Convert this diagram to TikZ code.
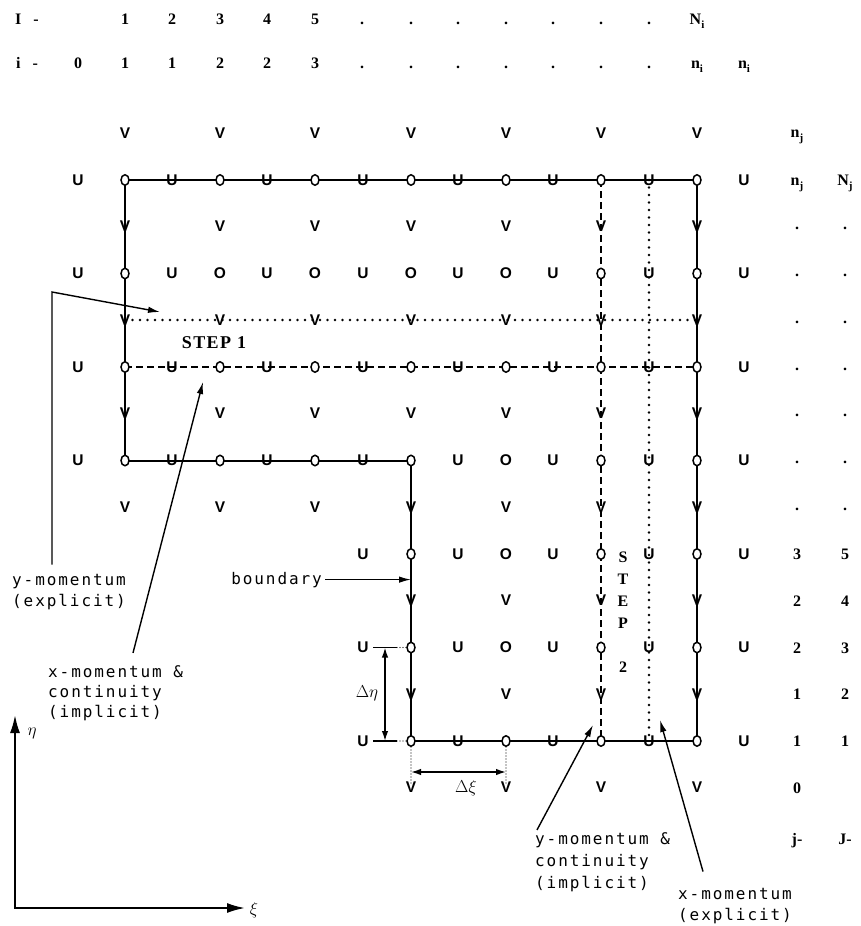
\documentclass[tikz,border=0pt]{standalone}
\usepackage{fontspec}
\setmainfont{Liberation Serif}
\newfontfamily\gridfont{Liberation Sans}
\newfontfamily\annfont[LetterSpace=12]{DejaVu Sans Mono}
\newfontfamily\stepfont[LetterSpace=8]{Liberation Serif}
\usetikzlibrary{arrows.meta,backgrounds,shapes.geometric,calc}
\newcommand\lowsub[1]{\raisebox{-0.55ex}{\fontsize{11}{11}\selectfont #1}}
\tikzset{
  gl/.style={font=\gridfont\bfseries\fontsize{15.5}{17}\selectfont, inner sep=0pt},
  ring/.style={ellipse, draw, fill=white, line width=1.5pt, minimum width=8pt, minimum height=10.5pt, inner sep=0pt},
  hd/.style={font=\bfseries\fontsize{16}{18}\selectfont, inner sep=0pt, anchor=base},
  ann/.style={font=\annfont\fontsize{16}{20}\selectfont, inner sep=0pt, anchor=base west},
  solidln/.style={line width=2pt},
  dashln/.style={line width=2pt, dash pattern=on 7pt off 4pt},
  dotln/.style={line width=2.8pt, dash pattern=on 0pt off 7.5pt, line cap=round},
  finedot/.style={line width=1.3pt, dash pattern=on 0pt off 3pt, line cap=round},
  dimtick/.style={line width=1.5pt},
  dimarr/.style={line width=1.5pt, {Latex[length=10pt,width=6.5pt]}-{Latex[length=10pt,width=6.5pt]}},
  arr/.style={line width=1.4pt, -{Latex[length=12pt,width=6.5pt]}},
  axisln/.style={line width=2pt, {Latex[length=18pt,width=10pt]}-{Latex[length=18pt,width=10pt]}},
  stp/.style={font=\stepfont\bfseries\fontsize{18}{20}\selectfont, inner sep=0pt},
  stpv/.style={font=\stepfont\bfseries\fontsize{16}{18}\selectfont, inner sep=0pt},
  mth/.style={font=\fontsize{16}{18}\selectfont, inner sep=0pt},
}
\begin{document}
\begin{tikzpicture}[x=1pt,y=-1pt]
\useasboundingbox (0,0) rectangle (860,926);

% ---------- header rows ----------
\node[hd] (Ilab) at (27,24) {I\hspace{12pt}-};
\foreach \lab/\x [count=\n] in {1/125,2/172,3/220,4/267,5/315}
  \node[hd] (I\n) at (\x,24) {\lab};
\foreach \x [count=\n] in {362,411,458,506,553,601,649}
  \node[hd] (Id\n) at (\x,24) {.};
\node[hd] (INi) at (697,24) {N\lowsub{i}};

\node[hd] (ilab) at (27,68) {i\hspace{12pt}-};
\foreach \lab/\x [count=\n] in {0/78,1/125,1/172,2/220,2/267,3/315}
  \node[hd] (i\n) at (\x,68) {\lab};
\foreach \x [count=\n] in {362,411,458,506,553,601,649}
  \node[hd] (id\n) at (\x,68) {.};
\node[hd] (ini1) at (697,68) {n\lowsub{i}};
\node[hd] (ini2) at (744,68) {n\lowsub{i}};

% ---------- grid : V points ----------
\foreach \k/\y in {0/133,1/226.5,2/320,3/413.5,4/507}
  \foreach \c/\x in {1/125,2/220,3/315,4/411,5/506,6/601,7/697}
    \node[gl] (V\c-\k) at (\x,\y) {V};
\foreach \k/\y in {5/600.5,6/694,7/787.5}
  \foreach \c/\x in {4/411,5/506,6/601,7/697}
    \node[gl] (V\c-\k) at (\x,\y) {V};

% ---------- grid : U points ----------
\foreach \r/\y in {1/180,2/273.5,3/367,4/460.5}
  \foreach \u/\x in {0/78,1/172,2/267,3/363,4/458,5/553,6/649,7/744}
    \node[gl] (U\u-\r) at (\x,\y) {U};
\foreach \r/\y in {5/554,6/647.5,7/741}
  \foreach \u/\x in {3/363,4/458,5/553,6/649,7/744}
    \node[gl] (U\u-\r) at (\x,\y) {U};

% ---------- grid : pressure points ----------
\foreach \c/\x in {1/125,2/220,3/315,4/411,5/506,6/601,7/697} {
  \node[ring] (O\c-1) at (\x,180) {};
  \node[ring] (O\c-3) at (\x,367) {};
}
\foreach \c/\x in {1/125,6/601,7/697}
  \node[ring] (O\c-2) at (\x,273.5) {};
\foreach \c/\x in {2/220,3/315,4/411,5/506}
  \node[gl] (O\c-2) at (\x,273.5) {O};
\foreach \c/\x in {1/125,2/220,3/315,4/411,6/601,7/697}
  \node[ring] (O\c-4) at (\x,460.5) {};
\node[gl] (O5-4) at (506,460.5) {O};
\foreach \r/\y in {5/554,6/647.5} {
  \foreach \c/\x in {4/411,6/601,7/697}
    \node[ring] (O\c-\r) at (\x,\y) {};
  \node[gl] (O5-\r) at (506,\y) {O};
}
\foreach \c/\x in {4/411,5/506,6/601,7/697}
  \node[ring] (O\c-7) at (\x,741) {};

% ---------- lines ----------
\begin{scope}[on background layer]
  \draw[solidln] (O1-1.center) -- (O7-1.center) -- (O7-7.center) -- (O4-7.center)
        -- (O4-4.center) -- (O1-4.center) -- cycle;
  \draw[dashln] (O1-3.center) -- (O7-3.center);
  \draw[dashln] (O6-1.center) -- (O6-7.center);
  \draw[dotln] (V1-2.center) -- (V7-2.center);
  \draw[dotln] (U6-1.center) -- (U6-7.center);
\end{scope}

% ---------- step labels ----------
\node[stp] (step1) at (214,343) {STEP 1};
\node[stpv] (s2S) at (623,557) {S};
\node[stpv] (s2T) at (623,579) {T};
\node[stpv] (s2E) at (623,601) {E};
\node[stpv] (s2P) at (623,623) {P};
\node[stpv] (s22) at (623,667) {2};

% ---------- right column indices ----------
\node[hd] (rn0) at (797,137) {n\lowsub{j}};
\node[hd] (rn1) at (797,185) {n\lowsub{j}};
\node[hd] (rN1) at (845,185) {N\lowsub{j}};
\foreach \y [count=\n] in {226.5,273.5,320,367,413.5,460.5,507} {
  \node[hd] (rd\n) at (797,\y+3) {.};
  \node[hd] (Rd\n) at (845,\y+3) {.};
}
\foreach \a/\b/\y [count=\n] in {3/5/554,2/4/600.5,2/3/647.5,1/2/694,1/1/741} {
  \node[hd] (rj\n) at (797,\y+5.5) {\a};
  \node[hd] (rJ\n) at (845,\y+5.5) {\b};
}
\node[hd] (rj0) at (797,793) {0};
\node[hd] (rjlab) at (797,844) {j-};
\node[hd] (rJlab) at (845,844) {J-};

% ---------- dimensions ----------
\coordinate (deT) at (385,647.5);
\coordinate (deB) at (385,741);
\draw[dimtick] ([xshift=-12pt]deT) -- ([xshift=12pt]deT);
\draw[dimtick] ([xshift=-12pt]deB) -- ([xshift=12pt]deB);
\draw[finedot] ([xshift=12pt]deT) -- (O4-6.west);
\draw[finedot] ([xshift=12pt]deB) -- (O4-7.west);
\draw[dimarr] (deT) -- (deB);
\node[mth] (deta) at (367,693) {$\Delta\eta$};

\coordinate (dxL) at (411,772);
\coordinate (dxR) at (506,772);
\draw[finedot] (O4-7.south) -- ([yshift=-13pt]dxL);
\draw[finedot] (O5-7.south) -- ([yshift=-13pt]dxR);
\draw[dimarr] (dxL) -- (dxR);
\node[mth] (dxi) at (466,788) {$\Delta\xi$};

% ---------- annotations ----------
\node[ann] (ymx1) at (12,585) {y-momentum};
\node[ann] (ymx2) at (12,606) {(explicit)};
\node[ann] (xmc1) at (48,677) {x-momentum \&};
\node[ann] (xmc2) at (48,697) {continuity};
\node[ann] (xmc3) at (48,717) {(implicit)};
\node[ann] (ymc1) at (535,844) {y-momentum \&};
\node[ann] (ymc2) at (535,866) {continuity};
\node[ann] (ymc3) at (535,888) {(implicit)};
\node[ann] (xmx1) at (678,899) {x-momentum};
\node[ann] (xmx2) at (678,920) {(explicit)};
\node[ann, anchor=base east] (bnd) at (322,584) {boundary};

\coordinate (ymxC) at (52,292);
\coordinate (ymxT) at (160,312);
\draw[arr] ($(ymx1.north -| ymxC)+(0,-9)$) -- (ymxC) -- (ymxT);
\coordinate (xmcT) at (203,382);
\draw[arr] ($(xmc1.north west)+(85,-12)$) -- (xmcT);
\draw[arr] ([xshift=3pt]bnd.east) -- (bnd.east -| O4-5);
\coordinate (ymcT) at (593,725);
\draw[arr] ($(ymc1.north west)+(2,-2)$) -- (ymcT);
\coordinate (xmxT) at (660,720);
\draw[arr] ($(xmx1.north west)+(25,-16)$) -- (xmxT);

% ---------- axes ----------
\coordinate (orig) at (15,908);
\coordinate (etaT) at (15,715);
\coordinate (xiT) at (245,908);
\draw[axisln] (etaT) -- (orig) -- (xiT);
\node[mth] (eta) at (32,733) {$\eta$};
\node[mth] (xi) at (254,910) {$\xi$};
\end{tikzpicture}
\end{document}
